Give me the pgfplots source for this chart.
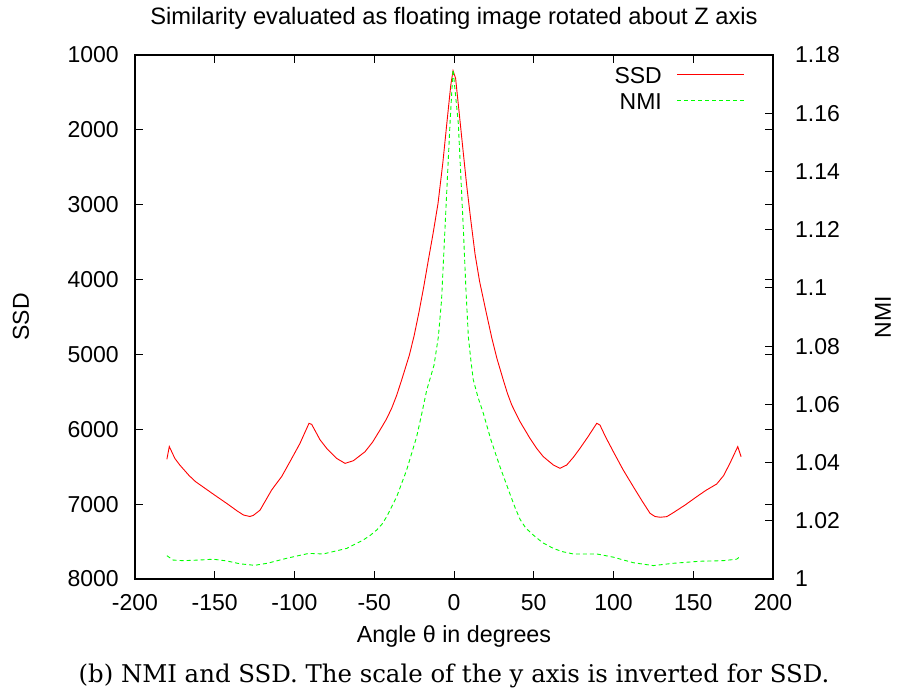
\documentclass[border=0pt]{standalone}
\usepackage{pgfplots}
\pgfplotsset{compat=1.18}
\usepackage{fontspec}
\setmainfont{Liberation Sans}
\newfontfamily\capfont{DejaVu Serif}
\definecolor{gred}{RGB}{255,0,0}
\definecolor{ggreen}{RGB}{0,255,0}
\newcommand{\tfont}{\fontsize{23}{27}\selectfont}
\pgfplotsset{
  common/.style={
    at={(0pt,0pt)}, anchor=south west,
    scale only axis, width=638pt, height=524pt,
    xmin=-200, xmax=200,
    tick align=inside, major tick length=8pt,
    every tick/.style={black, line width=0.8pt},
    axis line style={line width=1.1pt},
    tick label style={font=\tfont},
  }
}
\begin{document}
\begin{tikzpicture}
\path[use as bounding box] (-135pt,-117pt) rectangle (765pt,579pt);
\begin{axis}[common,
  ymin=1000, ymax=8000, y dir=reverse,
  xtick={-200,-150,-100,-50,0,50,100,150,200},
  xticklabels={-200,-150,-100,-50,0,50,100,150,200},
  ytick={1000,2000,3000,4000,5000,6000,7000,8000},
  yticklabels={1000,2000,3000,4000,5000,6000,7000,8000},
  xticklabel pos=bottom, xtick pos=both,
  yticklabel pos=left, ytick pos=both,
  xticklabel style={anchor=center, yshift=-24pt},
  yticklabel style={anchor=east, inner sep=0pt, xshift=-16pt},
  title={Similarity evaluated as floating image rotated about Z axis},
  every axis title/.style={at={(axis description cs:0.5,1)}, anchor=center, yshift=37pt, font=\fontsize{23.7}{27}\selectfont},
  xlabel={Angle θ in degrees},
  every axis x label/.style={at={(axis description cs:0.5,0)}, anchor=center, yshift=-57pt, font=\fontsize{23.3}{27}\selectfont},
  ylabel={SSD},
  every axis y label/.style={at={(axis description cs:-0.17868,0.5)}, anchor=center, rotate=90, font=\tfont},
]
\addplot[gred, line width=0.9pt] coordinates {
(-180,6400) (-178.5,6230) (-175,6390) (-171.8,6480) (-166,6620) (-162,6700)
(-157,6775) (-150,6880) (-142.5,6990) (-136,7090) (-132,7145) (-128,7165)
(-125.8,7150) (-121.6,7080) (-114.3,6810) (-108,6630) (-102,6400) (-96.6,6190)
(-90.9,5920) (-89.2,5935) (-84,6140) (-79.8,6255) (-73.5,6390) (-68.3,6455)
(-63.1,6420) (-55.8,6300) (-51,6170) (-46.4,6010) (-42.5,5870) (-39.1,5720)
(-36,5550) (-32.8,5340) (-28,5010) (-25,4750) (-22,4440) (-19,4100)
(-16,3730) (-13,3370) (-10,2980) (-7,2440) (-4,1810) (-2,1400) (-0.6,1210)
(1,1310) (3,1720) (5.8,2300) (8,2750) (10.5,3200) (13.2,3660) (16,4020)
(20,4420) (23.6,4770) (27,5060) (30.9,5341) (33.5,5520) (36.2,5675)
(41.4,5898) (47.6,6120) (52,6260) (56,6366) (62.3,6477) (66.5,6521) (70.7,6477)
(75,6370) (79,6254) (84,6100) (89.5,5920) (91.5,5943) (95,6100) (99.9,6299)
(106,6540) (112.4,6766) (118,6960) (122.9,7122) (126,7165)
(129.2,7175) (133.4,7167) (137.5,7114) (145,7010) (152.2,6900) (158,6815)
(164.7,6731) (169,6620) (173,6454) (177.9,6232) (180,6366)
};
\end{axis}
\begin{axis}[common,
  ymin=1, ymax=1.18,
  hide x axis,
  axis y line*=right, y axis line style={-},
  ytick={1,1.02,1.04,1.06,1.08,1.1,1.12,1.14,1.16,1.18},
  yticklabels={1,1.02,1.04,1.06,1.08,1.1,1.12,1.14,1.16,1.18},
  yticklabel style={anchor=west, inner sep=0pt, xshift=22pt},
  ylabel={NMI},
  every axis y label/.style={at={(axis description cs:1.17241,0.5)}, anchor=center, rotate=90, font=\tfont},
  legend style={at={(axis description cs:0.956,0.9758)}, anchor=north east,
    draw=none, fill=none, inner sep=0pt, row sep=8.5pt, column sep=15pt,
    nodes={inner sep=0pt}, font=\tfont},
  legend cell align=right, legend plot pos=right,
  legend image code/.code={\draw[#1] (0pt,2.2pt) -- (67pt,2.2pt);},
]
\addlegendimage{gred, line width=0.9pt}
\addlegendentry{SSD}
\addplot[ggreen, line width=0.9pt, dash pattern=on 4pt off 3pt] coordinates {
(-180,1.0080) (-176,1.0065) (-170,1.0063) (-160,1.0065) (-151,1.0068)
(-142.5,1.0062) (-134,1.0052) (-125,1.0047) (-117,1.0054) (-105,1.0071)
(-91,1.0088) (-82,1.0086) (-67.3,1.0105) (-56.9,1.0134) (-52.5,1.0150) (-48.5,1.0168)
(-45.2,1.0188) (-42.2,1.0214) (-35.9,1.0283) (-29.7,1.0374) (-23.4,1.0489) (-20.4,1.0563)
(-17.1,1.0649) (-12.5,1.0735) (-9.8,1.0832) (-7.8,1.0958) (-5.6,1.121)
(-2.5,1.1565) (-0.6,1.175)
(2.7,1.1565) (5.8,1.121) (7.5,1.0993) (9,1.0832) (10.7,1.0745) (12.1,1.0684)
(15,1.0625) (18.4,1.0569) (23.2,1.0477) (28.8,1.0386) (35.1,1.0292)
(38.3,1.0245) (41.4,1.0205) (45,1.0175) (49.7,1.0151) (55.5,1.0125) (62.3,1.0105)
(68,1.0094) (74.8,1.0086) (89.5,1.0086)
(99.9,1.0075) (112.4,1.0056) (125,1.0046) (137.5,1.0054) (154.2,1.0061)
(168.8,1.0063) (177.2,1.0068) (180,1.0080)
};
\addlegendentry{NMI}
\end{axis}
\node[font=\capfont\fontsize{24.4}{28}\selectfont, anchor=center] at (319pt,-97pt)
  {(b) NMI and SSD. The scale of the y axis is inverted for SSD.};
\end{tikzpicture}
\end{document}
